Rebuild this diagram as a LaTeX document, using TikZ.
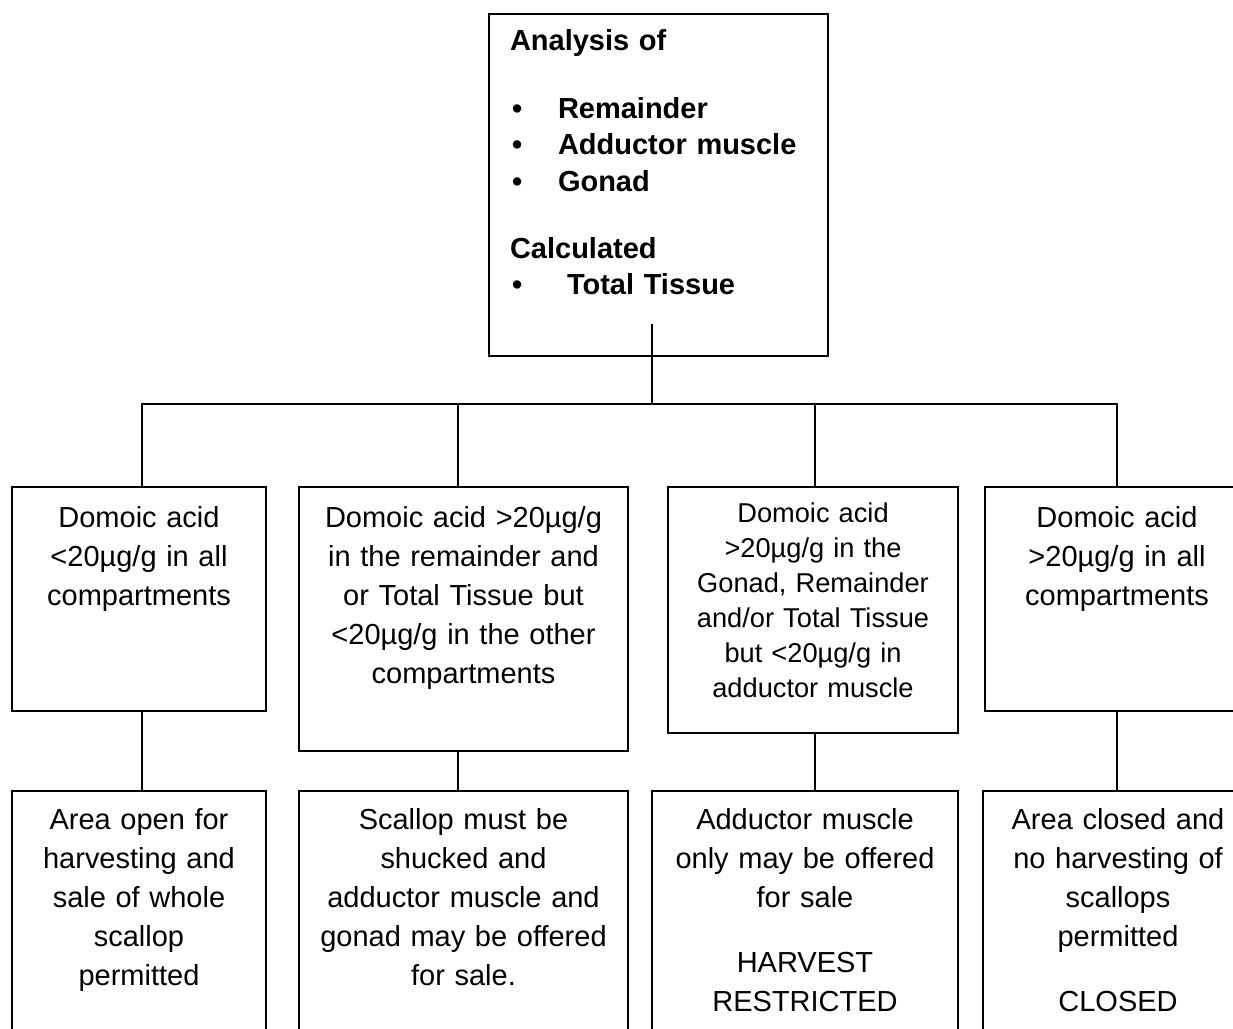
\documentclass[tikz,border=0pt]{standalone}
\usepackage{fontspec}
\setmainfont{Liberation Sans}
\usetikzlibrary{positioning,calc}
\newcommand{\bul}[1][0.96cm]{\makebox[#1][l]{\hspace{0.04cm}\textbullet}}
\tikzset{
  boxnode/.style = {draw=black, line width=1.1pt, inner sep=0pt, align=center,
    font=\fontsize{16.5}{22.2}\selectfont},
  cond_n/.style = {boxnode, anchor=north, text height=0.82cm},% condition box
  cond_s/.style = {cond_n, text height=0.72cm,
    font=\fontsize{15.5}{19.9}\selectfont},% condition box, small text
  act_n/.style = {boxnode, anchor=north, text height=0.78cm,
    text depth=4.22cm},% action box
  link/.style = {draw=black, line width=0.8pt}
}
\begin{document}
\begin{tikzpicture}[x=0.02cm, y=-0.02cm]
\useasboundingbox (0,0) rectangle (1233,1028);
\clip (0,0) rectangle (1233,1028);

\node[boxnode, anchor=north, align=left, inner xsep=0.42cm, text width=5.94cm,
  text height=0.74cm, text depth=6.1cm,
  font=\fontsize{16.5}{20.5}\selectfont\bfseries] (top) at (658.5,13)
  {Analysis of\\[0.64cm]
   \bul Remainder\\
   \bul Adductor muscle\\
   \bul Gonad\\[0.62cm]
   Calculated\\
   \bul[1.14cm]Total Tissue};

% conditions
\node[cond_n, text width=5.08cm, text depth=3.66cm] (c1) at (139,486)
  {Domoic acid\\<20µg/g in all\\compartments};
\node[cond_n, text width=6.58cm, text depth=4.46cm] (c2) at (463.5,486)
  {Domoic acid >20µg/g\\in the remainder and\\or Total Tissue but\\<20µg/g in the other\\compartments};
\node[cond_s, text width=5.8cm, text depth=4.2cm] (c3) at (813,486)
  {Domoic acid\\>20µg/g in the\\Gonad, Remainder\\and/or Total Tissue\\but <20µg/g in\\adductor muscle};
\node[cond_n, text width=5.28cm, text depth=3.66cm] (c4) at (1117,486)
  {Domoic acid\\>20µg/g in all\\compartments};

% actions
\node[act_n, text width=5.08cm] (r1) at (139,790)
  {Area open for\\harvesting and\\sale of whole\\scallop\\permitted};
\node[act_n, text width=6.58cm] (r2) at (463.5,790)
  {Scallop must be\\shucked and\\adductor muscle and\\gonad may be offered\\for sale.};
\node[act_n, text width=6.12cm] (r3) at (805,790)
  {Adductor muscle\\only may be offered\\for sale\\[0.52cm]HARVEST\\RESTRICTED};
\node[act_n, text width=5.4cm] (r4) at (1118,790)
  {Area closed and\\no harvesting of\\scallops\\permitted\\[0.52cm]CLOSED};

\coordinate (hub) at (652,404);
\draw[link] ([yshift=0.66cm]top.south -| hub) -- (hub);
\foreach \a/\b/\dx in {c1/r1/0.06,c2/r2/-0.11,c3/r3/0.04,c4/r4/0}{
  \draw[link] (hub) -| ([xshift=\dx cm]\a.north);
  \draw[link] ([xshift=\dx cm]\a.south) -- ([xshift=\dx cm]\a.south |- \b.north);
}
\end{tikzpicture}
\end{document}
